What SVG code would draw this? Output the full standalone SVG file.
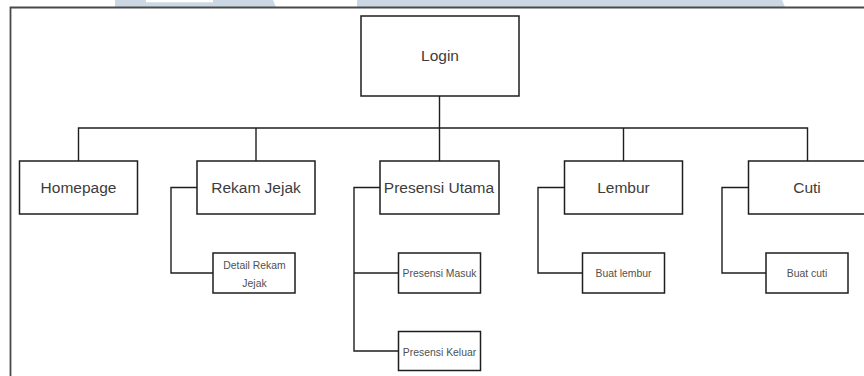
<svg xmlns="http://www.w3.org/2000/svg" width="864" height="376" viewBox="0 0 864 376">
  <style>
    .box { fill: #ffffff; stroke: #1e1e1e; stroke-width: 1.5; }
    .link { fill: none; stroke: #1e1e1e; stroke-width: 1.4; }
    .frame { fill: none; stroke: #4a4a4a; stroke-width: 1.8; }
    .band { fill: #cbd8e3; }
    .lbl { font-family: "Liberation Sans", Arial, sans-serif; font-size: 15.5px; fill: #3c3c3c; text-anchor: middle; }
    .sm { font-family: "Liberation Sans", Arial, sans-serif; font-size: 10.4px; fill: #505050; text-anchor: middle; }
  </style>

  <!-- page background and header bands -->
  <rect x="0" y="0" width="864" height="376" fill="#ffffff"/>
  <polygon class="band" points="115,0 273,0 276,7 115,7"/>
  <rect x="146" y="0" width="67" height="2.3" fill="#ffffff"/>
  <polygon class="band" points="357,0 782,0 785,7 357,7"/>

  <!-- page frame -->
  <path class="frame" d="M864,7.5 H10.5 V376"/>

  <!-- connectors -->
  <g id="connectors">
    <path class="link" d="M439.5,96 V128"/>
    <path class="link" d="M78.5,161 V128 H807.5 V161"/>
    <path class="link" d="M256,128 V161"/>
    <path class="link" d="M439.5,128 V161"/>
    <path class="link" d="M623.5,128 V161"/>
    <path class="link" d="M197,187.5 H171 V273 H213"/>
    <path class="link" d="M380,187.5 H354 V351 H398.5"/>
    <path class="link" d="M354,273 H398.5"/>
    <path class="link" d="M564.5,187.5 H538 V273 H582.5"/>
    <path class="link" d="M748.5,187.5 H722 V273 H766"/>
  </g>

  <g id="login">
    <rect class="box" x="361" y="16" width="158" height="80"/>
    <text class="lbl" x="440" y="61">Login</text>
  </g>

  <g id="homepage">
    <rect class="box" x="19.5" y="161" width="118" height="53"/>
    <text class="lbl" x="78.5" y="193">Homepage</text>
  </g>

  <g id="rekam-jejak">
    <rect class="box" x="197" y="161" width="118" height="53"/>
    <text class="lbl" x="256" y="193">Rekam Jejak</text>
  </g>

  <g id="presensi-utama">
    <rect class="box" x="380" y="161" width="119" height="53"/>
    <text class="lbl" x="439" y="193">Presensi Utama</text>
  </g>

  <g id="lembur">
    <rect class="box" x="564.5" y="161" width="118" height="53"/>
    <text class="lbl" x="623.5" y="193">Lembur</text>
  </g>

  <g id="cuti">
    <rect class="box" x="748.5" y="161" width="118" height="53"/>
    <text class="lbl" x="807" y="193">Cuti</text>
  </g>

  <g id="detail-rekam-jejak">
    <rect class="box" x="213" y="253" width="82" height="40"/>
    <text class="sm" x="254.5" y="268.7">Detail Rekam</text>
    <text class="sm" x="254.5" y="287">Jejak</text>
  </g>

  <g id="presensi-masuk">
    <rect class="box" x="398.5" y="253" width="82" height="40"/>
    <text class="sm" x="439.5" y="276.7">Presensi Masuk</text>
  </g>

  <g id="presensi-keluar">
    <rect class="box" x="398.5" y="331.5" width="82" height="39"/>
    <text class="sm" x="439.5" y="355.5">Presensi Keluar</text>
  </g>

  <g id="buat-lembur">
    <rect class="box" x="582.5" y="253" width="82" height="40"/>
    <text class="sm" x="623.5" y="276.7">Buat lembur</text>
  </g>

  <g id="buat-cuti">
    <rect class="box" x="766" y="253" width="82" height="40"/>
    <text class="sm" x="807" y="276.7">Buat cuti</text>
  </g>
</svg>
